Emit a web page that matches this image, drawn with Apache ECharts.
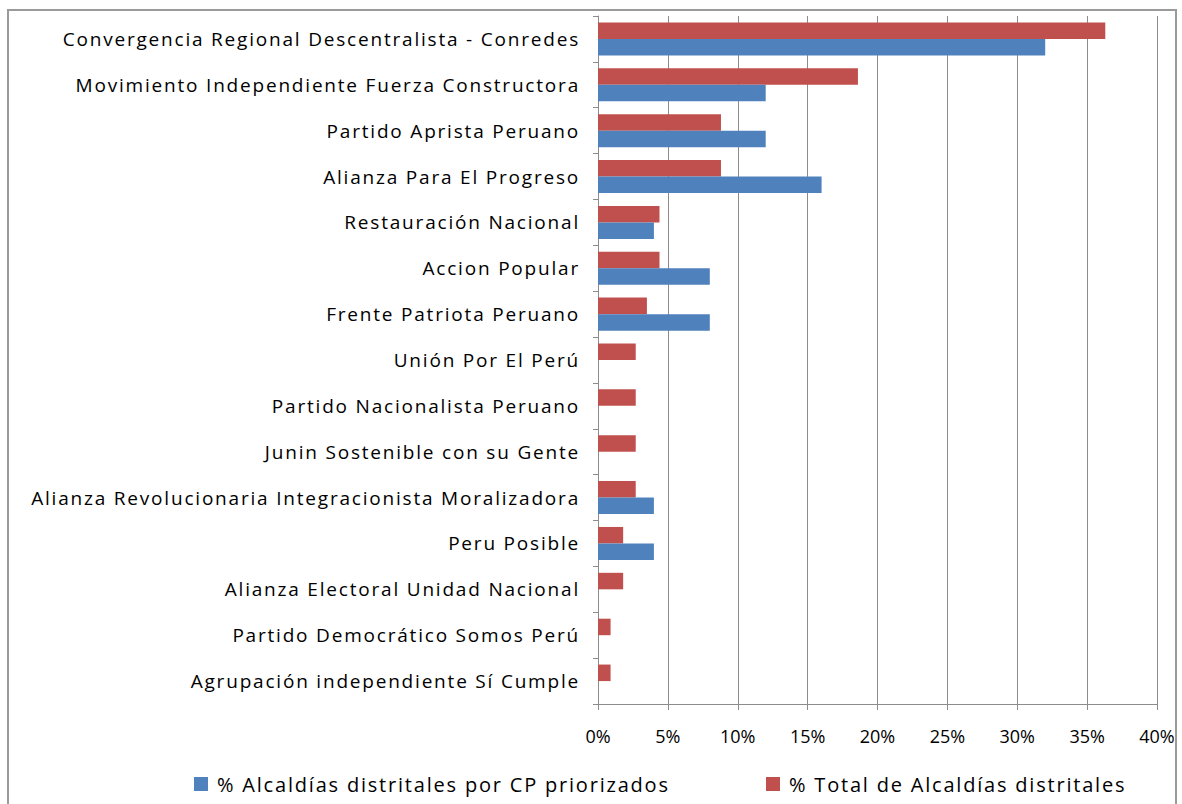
<!DOCTYPE html>
<html>
<head>
<meta charset="utf-8">
<script src="https://cdn.jsdelivr.net/npm/echarts@6/dist/echarts.min.js"></script>
<style>
  html, body { margin: 0; padding: 0; background: #fff; }
  /* Excel-style loose tracking on the chart text */
  #chart { position: absolute; left: 0; top: 0; width: 1182px; height: 804px; letter-spacing: 1.8px; }
  #chart text[style*="Narrow"] { letter-spacing: 0; }
  #frame { position: absolute; left: 7px; top: 9px; width: 1170px; height: 800px; border: 2px solid #9a9a9a; box-sizing: border-box; pointer-events: none; }
</style>
</head>
<body>
<div id="chart"></div>
<div id="frame"></div>
<script>
// party names, top to bottom
const partidos = [
  'Convergencia Regional Descentralista - Conredes',
  'Movimiento Independiente Fuerza Constructora',
  'Partido Aprista Peruano',
  'Alianza Para El Progreso',
  'Restauración Nacional',
  'Accion Popular',
  'Frente Patriota Peruano',
  'Unión Por El Perú',
  'Partido Nacionalista Peruano',
  'Junin Sostenible con su Gente',
  'Alianza Revolucionaria Integracionista Moralizadora',
  'Peru Posible',
  'Alianza Electoral Unidad Nacional',
  'Partido Democrático Somos Perú',
  'Agrupación independiente Sí Cumple'
];

// % Alcaldías distritales por CP priorizados
const pctPriorizados = [32, 12, 12, 16, 4, 8, 8, 0, 0, 0, 4, 4, 0, 0, 0];

// % Total de Alcaldías distritales
const pctTotal = [36.3, 18.6, 8.8, 8.8, 4.4, 4.4, 3.5, 2.7, 2.7, 2.7, 2.7, 1.8, 1.8, 0.9, 0.9];

const serieAzul = '% Alcaldías distritales por CP priorizados';
const serieRoja = '% Total de Alcaldías distritales';

const chart = echarts.init(document.getElementById('chart'), null, { renderer: 'svg' });
const fuente = '"Open Sans", sans-serif';
const fuenteEjeX = '"Liberation Sans Narrow", "Open Sans", sans-serif';
const leyendaTexto = { fontFamily: fuente, fontSize: 20, color: '#000', padding: [0, 0, 0, 4] };

chart.setOption({
  animation: false,
  textStyle: { fontFamily: fuente, color: '#000' },
  grid: { left: 598, right: 25, top: 16, bottom: 100, containLabel: false },
  // two legends so each item sits where the original has it
  legend: [
    {
      data: [serieAzul],
      left: 189, top: 769,
      itemWidth: 14, itemHeight: 14, icon: 'rect',
      textStyle: leyendaTexto
    },
    {
      data: [serieRoja],
      left: 761, top: 769,
      itemWidth: 14, itemHeight: 14, icon: 'rect',
      textStyle: leyendaTexto
    }
  ],
  xAxis: {
    type: 'value',
    min: 0,
    max: 40,
    interval: 5,
    axisLine: { show: true, lineStyle: { color: '#8c8c8c' } },
    axisTick: { show: true, length: 6, lineStyle: { color: '#8c8c8c' } },
    splitLine: { show: true, lineStyle: { color: '#8c8c8c', width: 1 } },
    axisLabel: { formatter: '{value}%', fontFamily: fuenteEjeX, fontSize: 18, color: '#000', margin: 23 }
  },
  yAxis: {
    type: 'category',
    data: partidos,
    inverse: true,
    axisLine: { show: true, lineStyle: { color: '#8c8c8c' } },
    axisTick: { show: true, length: 5, lineStyle: { color: '#8c8c8c' } },
    axisLabel: { fontSize: 19, color: '#000', margin: 18 }
  },
  // red first: ECharts puts the first series on top within each row
  series: [
    {
      name: serieRoja,
      type: 'bar',
      data: pctTotal,
      barGap: '0%',
      barCategoryGap: '28%',
      itemStyle: { color: '#C0504D' }
    },
    {
      name: serieAzul,
      type: 'bar',
      data: pctPriorizados,
      barGap: '0%',
      barCategoryGap: '28%',
      itemStyle: { color: '#4F81BD' }
    }
  ]
});
</script>
</body>
</html>
